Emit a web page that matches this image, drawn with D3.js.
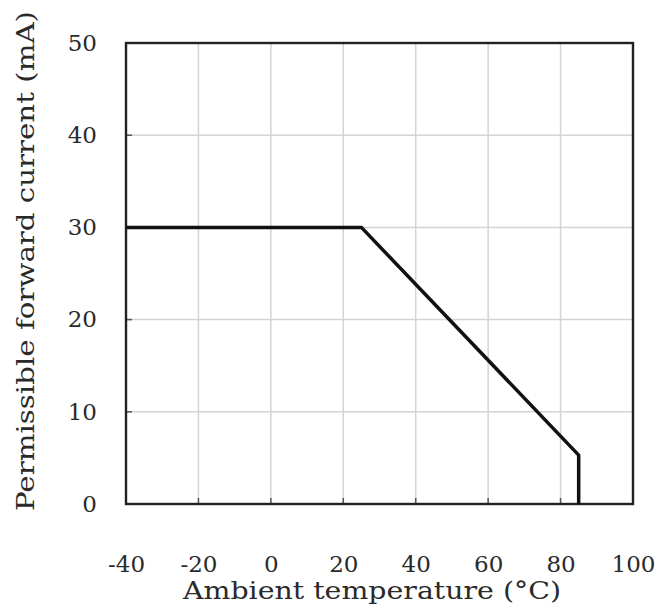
<!DOCTYPE html>
<html><head><meta charset="utf-8">
<script src="https://cdn.jsdelivr.net/npm/d3@7"></script>
<style>body{margin:0;background:#fff}</style>
</head><body>
<svg id="c" width="660" height="611"></svg>
<script>
const temps = [-40, 25, 85, 85];
const currents = [30, 30, 5.3, 0];
const xTicks = [-40, -20, 0, 20, 40, 60, 80, 100];
const yTicks = [0, 10, 20, 30, 40, 50];
const xTitle = "Ambient temperature (°C)";
const yTitle = "Permissible forward current (mA)";

const svg = d3.select("#c");
const m = {l:126, r:633, t:43, b:504};
const x = d3.scaleLinear().domain([-40,100]).range([m.l, m.r]);
const y = d3.scaleLinear().domain([0,50]).range([m.b, m.t]);
const font = "'DejaVu Serif', 'Liberation Serif', serif";
const ink = "#2a2a2a";

// grid
svg.append("g").selectAll("line").data(xTicks).join("line")
  .attr("x1", d=>x(d)).attr("x2", d=>x(d)).attr("y1", m.t).attr("y2", m.b)
  .attr("stroke", "#d4d4d4").attr("stroke-width", 1.5);
svg.append("g").selectAll("line").data(yTicks).join("line")
  .attr("y1", d=>y(d)).attr("y2", d=>y(d)).attr("x1", m.l).attr("x2", m.r)
  .attr("stroke", "#d4d4d4").attr("stroke-width", 1.5);

// small inner ticks
svg.append("g").selectAll("line").data(xTicks).join("line")
  .attr("x1", d=>x(d)).attr("x2", d=>x(d)).attr("y1", m.b).attr("y2", m.b-6)
  .attr("stroke", "#555").attr("stroke-width", 1.5);
svg.append("g").selectAll("line").data(yTicks).join("line")
  .attr("y1", d=>y(d)).attr("y2", d=>y(d)).attr("x1", m.l).attr("x2", m.l+6)
  .attr("stroke", "#555").attr("stroke-width", 1.5);

// frame
svg.append("rect").attr("x", m.l).attr("y", m.t).attr("width", m.r-m.l).attr("height", m.b-m.t)
  .attr("fill", "none").attr("stroke", "#222").attr("stroke-width", 2.4);

// axes labels
const xa = d3.axisBottom(x).tickValues(xTicks).tickSize(0).tickPadding(0).tickFormat(d => String(d));
const gx = svg.append("g").attr("transform", `translate(0,${m.b})`).call(xa);
gx.select(".domain").remove();
gx.selectAll("text").attr("y", 68).attr("dy", 0)
  .style("font-family", font).style("font-size", "23px").attr("fill", ink);

const ya = d3.axisLeft(y).tickValues(yTicks).tickSize(0).tickPadding(29).tickFormat(d => String(d));
const gy = svg.append("g").attr("transform", `translate(${m.l},0)`).call(ya);
gy.select(".domain").remove();
gy.selectAll("text").style("font-family", font).style("font-size", "23px").attr("fill", ink);

svg.append("text").attr("x", 372).attr("y", 599).attr("text-anchor", "middle")
  .attr("textLength", 378).attr("lengthAdjust", "spacingAndGlyphs")
  .style("font-family", font).style("font-size", "24px").attr("fill", ink).text(xTitle);
svg.append("text").attr("transform", `translate(34,261) rotate(-90)`).attr("text-anchor", "middle")
  .attr("textLength", 500).attr("lengthAdjust", "spacingAndGlyphs")
  .style("font-family", font).style("font-size", "24px").attr("fill", ink).text(yTitle);

// curve
const pts = temps.map((t,i)=>[t, currents[i]]);
svg.append("path").datum(pts)
  .attr("d", d3.line().x(d=>x(d[0])).y(d=>y(d[1])))
  .attr("fill", "none").attr("stroke", "#111").attr("stroke-width", 3.5).attr("stroke-linejoin", "miter");
</script>
</body></html>
